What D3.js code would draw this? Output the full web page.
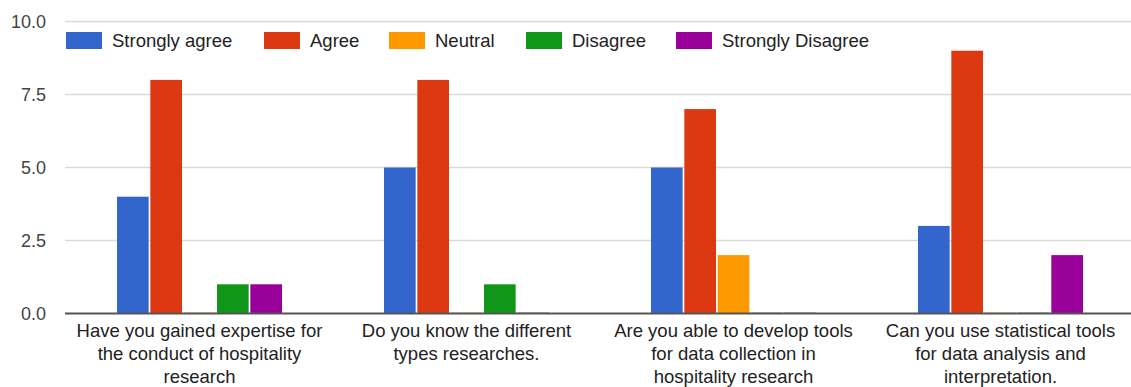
<!DOCTYPE html>
<html>
<head>
<meta charset="utf-8">
<script src="https://cdn.jsdelivr.net/npm/d3@7"></script>
<style>
  html, body { margin: 0; padding: 0; background: #fff; }
  svg { display: block; font-family: Arial, "Liberation Sans", sans-serif; }
</style>
</head>
<body>
<svg id="chart" width="1131" height="387"></svg>
<script>
const categories = [
  ["Have you gained expertise for", "the conduct of hospitality", "research"],
  ["Do you know the different", "types researches."],
  ["Are you able to develop tools", "for data collection in", "hospitality research"],
  ["Can you use statistical tools", "for data analysis and", "interpretation."]
];
const seriesNames = ["Strongly agree", "Agree", "Neutral", "Disagree", "Strongly Disagree"];
const stronglyAgree = [4, 5, 5, 3];
const agree = [8, 8, 7, 9];
const neutral = [0, 0, 2, 0];
const disagree = [1, 1, 0, 0];
const stronglyDisagree = [1, 0, 0, 2];
const yTicks = [0, 2.5, 5, 7.5, 10];
const colors = ["#3366cc", "#dc3912", "#ff9900", "#109618", "#990099"];

const seriesValues = [stronglyAgree, agree, neutral, disagree, stronglyDisagree];
const catKeys = categories.map((c, i) => i);

const svg = d3.select("#chart");
const plotLeft = 65, plotRight = 1131, plotTop = 21.5, plotBottom = 313.5;

const y = d3.scaleLinear().domain([0, 10]).range([plotBottom, plotTop]);
const x0 = d3.scaleBand().domain(catKeys).range([66, 1134]).paddingInner(0.382).paddingOuter(0.191);
const x1 = d3.scaleBand().domain(seriesNames).range([0, x0.bandwidth()]).paddingInner(0.05);

// gridlines
svg.append("g").selectAll("line").data(yTicks.filter(t => t !== 0)).join("line")
  .attr("x1", plotLeft).attr("x2", plotRight)
  .attr("y1", d => y(d)).attr("y2", d => y(d))
  .attr("stroke", "#d9d9d9").attr("stroke-width", 1.5);

// y tick labels
svg.append("g").selectAll("text").data(yTicks).join("text")
  .attr("x", 46).attr("y", d => y(d))
  .attr("dy", "0.35em")
  .attr("text-anchor", "end")
  .attr("font-size", "18px")
  .attr("fill", "#444")
  .text(d => d3.format(".1f")(d));

// bars
const groups = svg.append("g").selectAll("g").data(catKeys).join("g")
  .attr("transform", d => `translate(${x0(d)},0)`);
groups.selectAll("rect")
  .data(ci => seriesNames.map((s, si) => ({ s, si, v: seriesValues[si][ci] })))
  .join("rect")
  .attr("x", d => x1(d.s))
  .attr("width", x1.bandwidth())
  .attr("y", d => d.v === 0 ? y(0) - 1.5 : y(d.v))
  .attr("height", d => d.v === 0 ? 1.5 : y(0) - y(d.v))
  .attr("fill", d => colors[d.si])
  .attr("fill-opacity", d => d.v === 0 ? 0.3 : 1);

// baseline
svg.append("line")
  .attr("x1", plotLeft).attr("x2", plotRight)
  .attr("y1", y(0)).attr("y2", y(0))
  .attr("stroke", "#555").attr("stroke-width", 2);

// category labels
const labels = svg.append("g").selectAll("text").data(catKeys).join("text")
  .attr("text-anchor", "middle")
  .attr("font-size", "18.5px")
  .attr("fill", "#222");
labels.each(function(ci) {
  const t = d3.select(this);
  categories[ci].forEach((line, li) => {
    t.append("tspan")
      .attr("x", x0(ci) + x0.bandwidth() / 2)
      .attr("y", 336.5 + li * 23)
      .text(line);
  });
});

// legend
const legendX = [66, 264, 389, 526, 676];
const legend = svg.append("g").selectAll("g").data(seriesNames).join("g")
  .attr("transform", (d, i) => `translate(${legendX[i]},32)`);
legend.append("rect")
  .attr("width", 36).attr("height", 17)
  .attr("fill", (d, i) => colors[i]);
legend.append("text")
  .attr("x", 46).attr("y", 8.5).attr("dy", "0.35em")
  .attr("font-size", "18.5px").attr("fill", "#222")
  .text(d => d);
</script>
</body>
</html>
